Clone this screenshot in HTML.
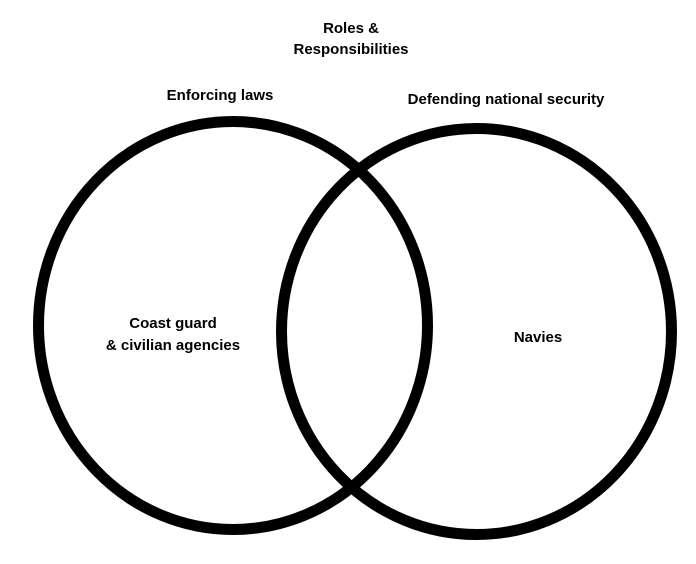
<!DOCTYPE html>
<html><head><style>
html,body{margin:0;padding:0;background:#fff;}
svg{display:block;}
text{font-family:"Liberation Sans",sans-serif;font-weight:bold;font-size:15px;fill:#000;}
</style></head><body>
<svg width="696" height="564" viewBox="0 0 696 564" xmlns="http://www.w3.org/2000/svg">
<rect width="696" height="564" fill="#fff"/>
<ellipse cx="233" cy="325.5" rx="194.5" ry="204" fill="none" stroke="#000" stroke-width="11"/>
<ellipse cx="476.5" cy="331.5" rx="195" ry="203" fill="none" stroke="#000" stroke-width="11"/>
<text x="351" y="33" text-anchor="middle">Roles &amp;</text>
<text x="351" y="54" text-anchor="middle">Responsibilities</text>
<text x="220" y="100" text-anchor="middle">Enforcing laws</text>
<text x="506" y="104" text-anchor="middle">Defending national security</text>
<text x="173" y="328" text-anchor="middle">Coast guard</text>
<text x="173" y="350" text-anchor="middle">&amp; civilian agencies</text>
<text x="538" y="342" text-anchor="middle">Navies</text>
</svg>
</body></html>
